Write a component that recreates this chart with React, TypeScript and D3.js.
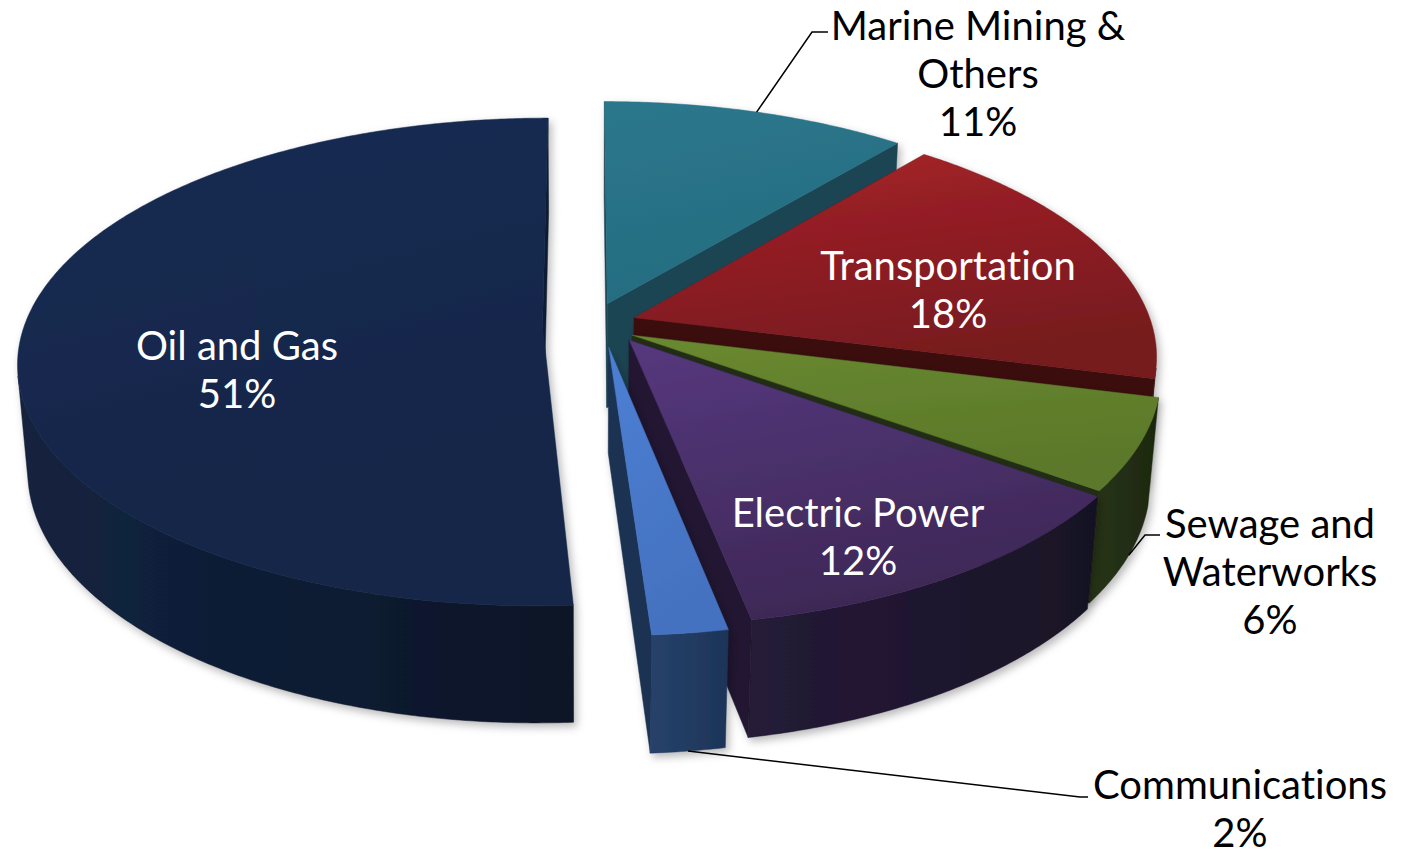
import React from "react";
import * as d3 from "d3";

// ---------- data ----------
const categories = [
  "Marine Mining & Others",
  "Transportation",
  "Sewage and Waterworks",
  "Electric Power",
  "Communications",
  "Oil and Gas",
];
const values = [11, 18, 6, 12, 2, 51];
const labelLines = [
  ["Marine Mining &", "Others"],
  ["Transportation"],
  ["Sewage and", "Waterworks"],
  ["Electric Power"],
  ["Communications"],
  ["Oil and Gas"],
];

// ---------- styles ----------
const topColors = [
  ["#2b778c", "#266c80"],
  ["#a72229", "#761a1e"],
  ["#6a8930", "#5b782a"],
  ["#56387e", "#3e2857"],
  ["#4d7fd4", "#4472c0"],
  ["#162b53", "#132648"],
];
const wallColors = [
  ["#1d4656", "#173a48"],
  ["#40100f", "#330c0d"],
  ["#283516", "#1d2710"],
  ["#251b38", "#181125"],
  ["#26426b", "#1d3457"],
  ["#13233f", "#0c1526"],
];
const radialColors = ["#1c4453", "#3b0e10", "#242e15", "#221931", "#1c3152", "#101d33"];
const labelColors = ["#000", "#fff", "#000", "#fff", "#000", "#fff"];
// explosion distance (pie radius units) and direction turn (degrees) per slice
const explodeAmount = [0.1, 0.1, 0.1, 0.105, 0.102, 0.082];
const explodeTurn = [6, 0, 0, -21, -19, 0];

// ---------- layout ----------
const W = 1412;
const H = 856;
const CX = 585;
const CY = 325;
const F = 3087;
const DIST = 5.96;
const SIN_A = 0.46;
const COS_A = 0.888;
const THICK = 0.232;
const FONT = 40;
const LINE_H = 48;

const labelLayout = [
  { x: 978, y: 25, leader: { z: 0, elbow: [812, 32], end: [828, 32] } },
  { x: 948, y: 265 },
  { x: 1270, y: 523, leader: { z: -1, elbow: [1145, 535], end: [1160, 535] } },
  { x: 858, y: 512 },
  { x: 1240, y: 784, leader: { z: -1, elbow: [1080, 797], end: [1088, 797] } },
  { x: 237, y: 345 },
];

const camera = [0, -DIST * COS_A, DIST * SIN_A];

function project(X: number, Y: number, Z: number): [number, number] {
  const up = Y * SIN_A + Z * COS_A;
  const depth = DIST + Y * COS_A - Z * SIN_A;
  return [CX + (F * X) / depth, CY - (F * up) / depth];
}

const lineGen = d3
  .line<[number, number]>()
  .x((d) => d[0])
  .y((d) => d[1])
  .curve(d3.curveLinearClosed);

const STEP = (0.5 * Math.PI) / 180;

function buildSlice(a0: number, a1: number, i: number) {
  const m = (a0 + a1) / 2;
  const dir = m + (explodeTurn[i] * Math.PI) / 180;
  const ox = explodeAmount[i] * Math.sin(dir);
  const oy = explodeAmount[i] * Math.cos(dir);
  const rim = (a: number, z: number) => project(ox + Math.sin(a), oy + Math.cos(a), z);
  const ctr = (z: number) => project(ox, oy, z);

  const n = Math.max(2, Math.ceil((a1 - a0) / STEP));
  const angles = d3.range(n + 1).map((k) => a0 + ((a1 - a0) * k) / n);

  const topPts: [number, number][] = [ctr(0), ...angles.map((a) => rim(a, 0))];

  const runs: number[][] = [];
  let cur: number[] = [];
  for (let k = 0; k < n; k++) {
    const a = (angles[k] + angles[k + 1]) / 2;
    const px = ox + Math.sin(a);
    const py = oy + Math.cos(a);
    const vis = Math.sin(a) * (camera[0] - px) + Math.cos(a) * (camera[1] - py) > 0;
    if (vis) {
      if (cur.length === 0) cur.push(angles[k]);
      cur.push(angles[k + 1]);
    } else if (cur.length) {
      runs.push(cur);
      cur = [];
    }
  }
  if (cur.length) runs.push(cur);
  const outer = runs.map((run) => [
    ...run.map((a) => rim(a, 0)),
    ...run
      .slice()
      .reverse()
      .map((a) => rim(a, -THICK)),
  ]);

  const radial: [number, number][][] = [];
  const toCam = [camera[0] - ox, camera[1] - oy];
  const n0 = [-Math.cos(a0), Math.sin(a0)];
  const n1 = [Math.cos(a1), -Math.sin(a1)];
  if (n0[0] * toCam[0] + n0[1] * toCam[1] > 0)
    radial.push([ctr(0), rim(a0, 0), rim(a0, -THICK), ctr(-THICK)]);
  if (n1[0] * toCam[0] + n1[1] * toCam[1] > 0)
    radial.push([ctr(0), rim(a1, 0), rim(a1, -THICK), ctr(-THICK)]);

  const depth = DIST + (oy + 0.4 * Math.cos(m)) * COS_A;
  return { i, m, top: topPts, outer, radial, depth, rim };
}

export default function App() {
  const pie = d3
    .pie<number>()
    .sort(null)
    .value((d) => d);
  const arcs = pie(values);
  const total = d3.sum(values);
  const slices = arcs.map((a, i) => buildSlice(a.startAngle, a.endAngle, i));
  const order = slices.slice().sort((a, b) => b.depth - a.depth);
  const pct = d3.format(".0%");

  return (
    <svg
      width={W}
      height={H}
      style={{ position: "absolute", left: 0, top: 0, background: "#fff", fontVariantLigatures: "none" }}
      fontFamily="Lato, 'Open Sans', sans-serif"
    >
      <defs>
        <filter id="shadow" x="-10%" y="-10%" width="120%" height="130%">
          <feDropShadow dx="3" dy="4" stdDeviation="4" floodColor="#000" floodOpacity="0.28" />
        </filter>
        {slices.map((s) => (
          <React.Fragment key={s.i}>
            <linearGradient id={`top${s.i}`} x1="0" y1="0" x2="0.3" y2="1">
              <stop offset="0" stopColor={topColors[s.i][0]} />
              <stop offset="1" stopColor={topColors[s.i][1]} />
            </linearGradient>
            <linearGradient id={`wall${s.i}`} x1="0" y1="0" x2="1" y2="0">
              <stop offset="0" stopColor={wallColors[s.i][0]} />
              <stop offset="1" stopColor={wallColors[s.i][1]} />
            </linearGradient>
          </React.Fragment>
        ))}
      </defs>

      {order.map((s) => (
        <g key={categories[s.i]} filter="url(#shadow)">
          {s.radial.map((p, k) => (
            <path key={`r${k}`} d={lineGen(p) || ""} fill={radialColors[s.i]} stroke={radialColors[s.i]} strokeWidth={0.5} />
          ))}
          {s.outer.map((p, k) => (
            <path key={`o${k}`} d={lineGen(p) || ""} fill={`url(#wall${s.i})`} stroke={wallColors[s.i][1]} strokeWidth={0.5} />
          ))}
          <path d={lineGen(s.top) || ""} fill={`url(#top${s.i})`} stroke={topColors[s.i][1]} strokeWidth={0.5} />
        </g>
      ))}

      {slices.map((s) => {
        const L = labelLayout[s.i].leader;
        if (!L) return null;
        const start = s.rim(s.m, L.z === 0 ? 0 : -THICK);
        return (
          <polyline
            key={`lead${s.i}`}
            points={[start, L.elbow, L.end].map((p) => p.join(",")).join(" ")}
            fill="none"
            stroke="#000"
            strokeWidth={1.5}
          />
        );
      })}

      {slices.map((s) => {
        const lay = labelLayout[s.i];
        const lines = [...labelLines[s.i], pct(values[s.i] / total)];
        return (
          <text key={`lab${s.i}`} textAnchor="middle" fontSize={FONT} fill={labelColors[s.i]}>
            {lines.map((t, k) => (
              <tspan key={k} x={lay.x} y={lay.y + k * LINE_H} dominantBaseline="central">
                {t}
              </tspan>
            ))}
          </text>
        );
      })}
    </svg>
  );
}
